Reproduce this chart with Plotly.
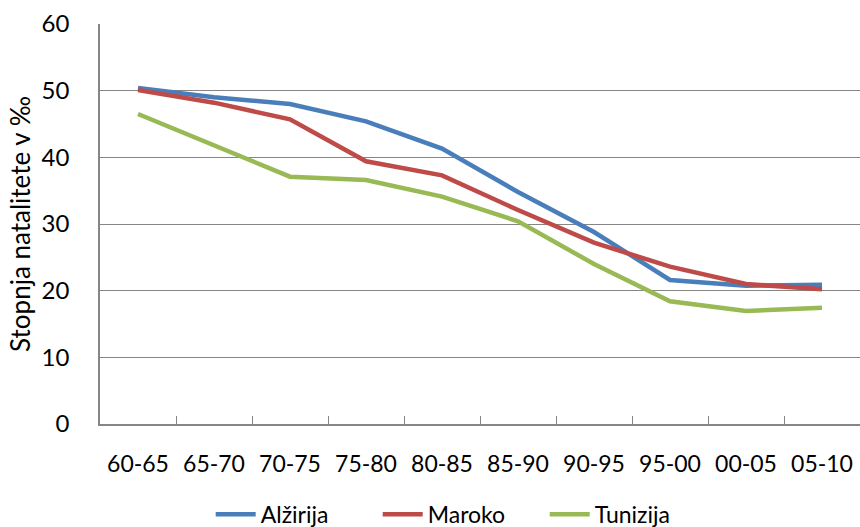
import plotly.graph_objects as go

categories = ["60-65", "65-70", "70-75", "75-80", "80-85", "85-90", "90-95", "95-00", "00-05", "05-10"]
alzirija = [50.4, 49.0, 48.0, 45.4, 41.3, 34.8, 28.8, 21.6, 20.75, 20.9]
maroko = [50.1, 48.2, 45.7, 39.4, 37.3, 32.1, 27.2, 23.6, 21.0, 20.2]
tunizija = [46.5, 41.8, 37.1, 36.6, 34.1, 30.4, 24.0, 18.4, 16.95, 17.45]
y_ticks = [0, 10, 20, 30, 40, 50, 60]

FONT = "Lato"
GRID = "#868686"

fig = go.Figure()
for name, vals, col in [("Alžirija", alzirija, "#4A7EBB"),
                        ("Maroko", maroko, "#BE4B48"),
                        ("Tunizija", tunizija, "#98B954")]:
    fig.add_trace(go.Scatter(x=categories, y=vals, mode="lines", name=name,
                             line=dict(color=col, width=4.5)))

fig.update_layout(
    width=860, height=527,
    margin=dict(l=100, r=0, t=24, b=103),
    paper_bgcolor="white", plot_bgcolor="white",
    font=dict(family=FONT, size=23, color="black"),
    showlegend=True,
    legend=dict(orientation="h", xref="container", yref="container",
                x=0.245, xanchor="left", y=0.024, yanchor="middle",
                font=dict(family=FONT, size=23, color="black"),
                itemwidth=40, tracegroupgap=0, entrywidth=112, entrywidthmode="pixels"),
    xaxis=dict(type="category", range=[-0.5, 9.5], showgrid=False,
               showline=True, linecolor=GRID, linewidth=1.5,
               ticks="inside", tickson="boundaries", ticklen=8, tickcolor=GRID, tickwidth=1.3,
               ticklabelstandoff=19, tickfont=dict(family=FONT, size=23)),
    yaxis=dict(range=[0, 60], tickvals=y_ticks, showgrid=True, gridcolor=GRID, gridwidth=1.4,
               showline=True, linecolor=GRID, linewidth=1.5, zeroline=False,
               ticks="", ticklabelstandoff=24, tickfont=dict(family=FONT, size=24),
               title=dict(text="Stopnja natalitete v ‰", font=dict(family=FONT, size=26), standoff=4)),
)

fig.write_html("out.html", config={"displayModeBar": False},
               post_script="document.body.style.margin='0';")
